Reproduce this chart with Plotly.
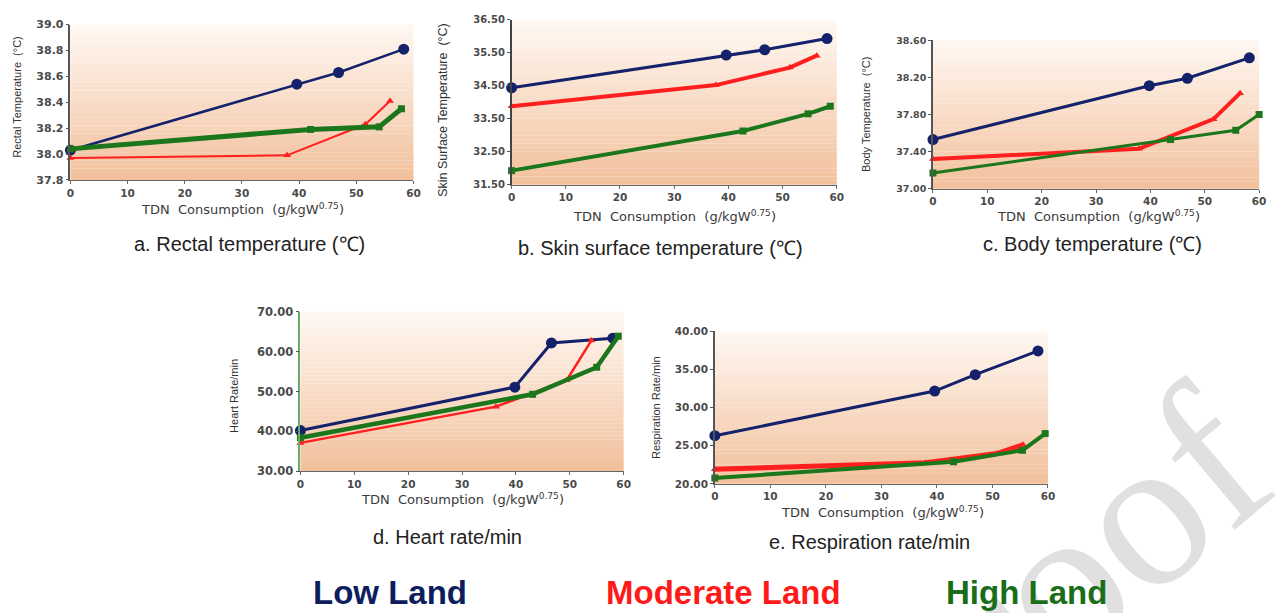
import plotly.graph_objects as go

W, H = 1281, 613

# ---------------- DATA ----------------
series_names = ["Low Land", "Moderate Land", "High Land"]

# a. Rectal temperature
x_rectal_low = [0, 39.6, 46.9, 58.3]
y_rectal_low = [38.03, 38.54, 38.63, 38.81]
x_rectal_mod = [0, 37.9, 51.6, 55.9]
y_rectal_mod = [37.97, 37.99, 38.23, 38.41]
x_rectal_high = [0, 42.0, 54.0, 57.9]
y_rectal_high = [38.04, 38.19, 38.21, 38.35]

# b. Skin surface temperature
x_skin_low = [0, 39.6, 46.7, 58.2]
y_skin_low = [34.44, 35.43, 35.59, 35.93]
x_skin_mod = [0, 37.7, 51.3, 56.3]
y_skin_mod = [33.88, 34.52, 35.05, 35.41]
x_skin_high = [0, 42.7, 54.7, 58.8]
y_skin_high = [31.93, 33.13, 33.65, 33.88]

# c. Body temperature
x_body_low = [0, 39.8, 46.8, 58.2]
y_body_low = [37.53, 38.11, 38.19, 38.41]
x_body_mod = [0, 37.9, 51.6, 56.5]
y_body_mod = [37.32, 37.43, 37.75, 38.03]
x_body_high = [0, 43.7, 55.7, 60.0]
y_body_high = [37.17, 37.53, 37.63, 37.80]

# d. Heart rate/min
x_heart_low = [0, 39.8, 46.6, 58.0]
y_heart_low = [40.2, 51.1, 62.2, 63.4]
x_heart_mod = [0, 36.3, 49.4, 54.0]
y_heart_mod = [37.1, 46.2, 52.8, 62.8]
x_heart_high = [0, 43.1, 55.0, 59.0]
y_heart_high = [38.4, 49.3, 56.1, 63.9]

# e. Respiration rate/min
x_resp_low = [0, 39.6, 46.9, 58.2]
y_resp_low = [26.32, 32.18, 34.32, 37.44]
x_resp_mod = [0, 38.0, 50.8, 55.5]
y_resp_mod = [21.92, 22.78, 23.97, 25.13]
x_resp_high = [0, 43.0, 55.4, 59.5]
y_resp_high = [20.77, 22.90, 24.40, 26.60]

x_ticks = [0, 10, 20, 30, 40, 50, 60]
x_title = "TDN  Consumption  (g/kgW<sup>0.75</sup>)"

panel_titles = ["a. Rectal temperature (℃)", "b. Skin surface temperature (℃)",
                "c. Body temperature (℃)", "d. Heart rate/min", "e. Respiration rate/min"]
y_titles = ["Rectal Temperature  (°C)", "Skin Surface Temperature  (°C)",
            "Body Temperature  (°C)", "Heart Rate/min", "Respiration Rate/min"]
y_ranges = [(37.8, 39.0), (31.5, 36.5), (37.0, 38.6), (30, 70), (20, 40)]
y_dticks = [0.2, 1.0, 0.4, 10, 5]
y_formats = [".1f", ".2f", ".2f", ".2f", ".2f"]

# ---------------- STYLE ----------------
NAVY = "#13226a"
RED = "#ff1f1f"
GREEN = "#1c761c"
colors = [NAVY, RED, GREEN]
symbols = ["circle", "triangle-up", "square"]
msizes = [11, 7, 7]

# pixel boxes of each plot area: (x0, x1, ytop, ybottom)
boxes = [(67, 413, 18, 177), (512, 840, 13, 182), (937, 1266, 34, 186),
         (299, 625, 312, 475), (717, 1053, 332, 488)]
# line widths per panel (low, mod, high)
widths = [(2.5, 2, 5), (3, 4, 4), (3, 4, 3), (3, 2.5, 4.5), (3, 5, 4)]
yaxis_line_colors = ["#555555", "#444444", "#555555", "#6aaa6a", "#555555"]
ytick_sizes = [11, 10, 9.5, 11.5, 10.5]
ytitle_sizes = [11, 12.5, 11, 11, 11]
title_pos = [(248, 243), (662, 247), (1098, 243), (447, 542), (873, 547)]
xtitle_pos = [(241, 207), (676, 214), (1104, 214), (462, 504), (886, 517)]
ytitle_pos = [(13, 92), (442, 105), (870, 110), (232, 398), (657, 410)]

panels = [
    [(x_rectal_low, y_rectal_low), (x_rectal_mod, y_rectal_mod), (x_rectal_high, y_rectal_high)],
    [(x_skin_low, y_skin_low), (x_skin_mod, y_skin_mod), (x_skin_high, y_skin_high)],
    [(x_body_low, y_body_low), (x_body_mod, y_body_mod), (x_body_high, y_body_high)],
    [(x_heart_low, y_heart_low), (x_heart_mod, y_heart_mod), (x_heart_high, y_heart_high)],
    [(x_resp_low, y_resp_low), (x_resp_mod, y_resp_mod), (x_resp_high, y_resp_high)],
]

FONT = "Liberation Sans, Arial, sans-serif"
WIDE = "DejaVu Sans, Verdana, sans-serif"

fig = go.Figure()
layout = dict(width=W, height=H, margin=dict(l=0, r=0, t=0, b=0),
              paper_bgcolor="white", plot_bgcolor="rgba(0,0,0,0)",
              showlegend=False, font=dict(family=FONT))
shapes = []
annotations = []

# watermark first so it sits behind other text
annotations.append(dict(text="Proof", x=1058 / W, y=1 - 594 / H, xref="paper", yref="paper",
                        showarrow=False, textangle=-40, xanchor="center", yanchor="middle",
                        font=dict(family="Liberation Serif, Times New Roman, serif", size=215,
                                  color="#e0e0e0")))


def hex2rgb(h):
    h = h.lstrip("#")
    return tuple(int(h[i:i + 2], 16) for i in (0, 2, 4))


top_c = hex2rgb("#fff8f3")
bot_c = hex2rgb("#f2c09b")
NSTRIPES = 40

for i, (series, box) in enumerate(zip(panels, boxes)):
    k = "" if i == 0 else str(i + 1)
    xa, ya = "x" + k, "y" + k
    x0, x1, yt, yb = box
    for j, ((xs, ys), name) in enumerate(zip(series, series_names)):
        fig.add_trace(go.Scatter(
            x=xs, y=ys, name=name, mode="lines+markers", xaxis=xa, yaxis=ya,
            line=dict(color=colors[j], width=widths[i][j]),
            marker=dict(symbol=symbols[j], size=msizes[j], color=colors[j]),
            cliponaxis=False))
    layout["xaxis" + k] = dict(
        domain=[x0 / W, x1 / W], anchor=ya, range=[0, 60], tickvals=x_ticks,
        showgrid=False, zeroline=False, showline=True, linecolor="#666666", linewidth=1,
        ticks="outside", ticklen=3, tickcolor="#666666",
        tickfont=dict(size=10.5, color="#4a4a4a", family=WIDE, weight="bold"))
    layout["yaxis" + k] = dict(
        domain=[1 - yb / H, 1 - yt / H], anchor=xa, range=list(y_ranges[i]),
        dtick=y_dticks[i], tick0=y_ranges[i][0], tickformat=y_formats[i],
        showgrid=False, zeroline=False, showline=True, linecolor=yaxis_line_colors[i], linewidth=1.5,
        ticks="outside", ticklen=3, tickcolor="#555555",
        tickfont=dict(size=ytick_sizes[i], color="#4a4a4a", family=WIDE, weight="bold"))
    # gradient background stripes
    for s in range(NSTRIPES):
        t = (s + 0.5) / NSTRIPES
        c = tuple(round(top_c[m] + (bot_c[m] - top_c[m]) * t) for m in range(3))
        shapes.append(dict(type="rect", xref=xa + " domain", yref=ya + " domain",
                           x0=0, x1=1, y0=1 - (s + 1) / NSTRIPES, y1=1 - s / NSTRIPES + 0.001,
                           fillcolor="rgb(%d,%d,%d)" % c, line=dict(width=0), layer="below"))
    tx, ty = title_pos[i]
    annotations.append(dict(text=panel_titles[i], x=tx / W, y=1 - ty / H, xref="paper", yref="paper",
                            showarrow=False, xanchor="center", yanchor="middle",
                            font=dict(size=20, color="#222222", family=FONT)))
    xx, xy = xtitle_pos[i]
    annotations.append(dict(text=x_title, x=xx / W, y=1 - xy / H, xref="paper", yref="paper",
                            showarrow=False, xanchor="center", yanchor="middle",
                            font=dict(size=13, color="#3a3a3a", family=WIDE)))
    yx, yy = ytitle_pos[i]
    annotations.append(dict(text=y_titles[i], x=yx / W, y=1 - yy / H, xref="paper", yref="paper",
                            showarrow=False, xanchor="center", yanchor="middle", textangle=-90,
                            font=dict(size=ytitle_sizes[i], color="#333333", family=FONT)))

# legend-like labels at the bottom
legend_pos = [389, 726, 1031]
legend_colors = ["#0d1d5e", "#ff1a1a", "#1a6e1a"]
for name, lx, lc in zip(series_names, legend_pos, legend_colors):
    annotations.append(dict(text="<b>%s</b>" % name, x=lx / W, y=1 - 599 / H, xref="paper", yref="paper",
                            showarrow=False, xanchor="center", yanchor="middle",
                            font=dict(size=33, color=lc, family=FONT)))

layout["shapes"] = shapes
layout["annotations"] = annotations
fig.update_layout(**layout)
fig.write_html("out.html", config={"displayModeBar": False},
               post_script="document.body.style.margin='0px';document.body.style.overflow='hidden';")
